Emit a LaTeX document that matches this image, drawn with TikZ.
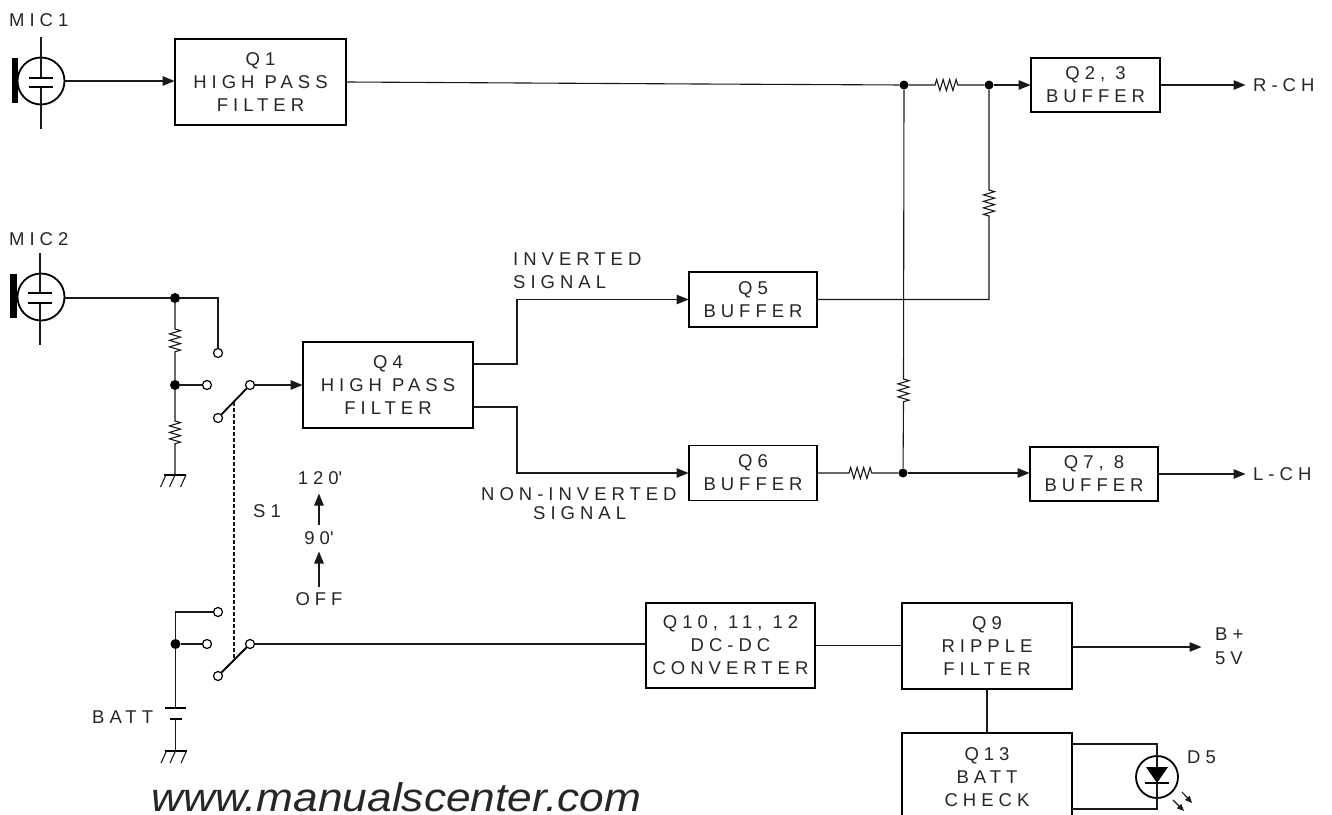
\documentclass[tikz,border=0pt]{standalone}
\usepackage{fontspec}
\setmainfont[LetterSpace=27]{Liberation Sans}
\newfontfamily\wmfont{Liberation Sans}
\usetikzlibrary{arrows.meta,decorations.pathmorphing,calc}
\tikzset{
  wire/.style={line width=1.1pt,black!90},
  arr/.style={wire,-{Triangle[length=12pt,width=9.5pt]},shorten >=-0.5pt},
  block/.style={draw,line width=1.9pt,rectangle,align=center,inner sep=0pt,font=\fontsize{18.5}{23}\selectfont,text=black!85},
  label/.style={align=center,inner sep=0pt,font=\fontsize{18.5}{23}\selectfont,text=black!85},
  dot/.style={circle,fill=black,inner sep=0pt,minimum size=10pt},
  term/.style={circle,draw,line width=1.2pt,fill=white,inner sep=0pt,minimum size=9pt},
  mic/.style={circle,draw,line width=1.8pt,inner sep=0pt,minimum size=47pt},
  blade/.style={line width=1.8pt},
  res/.style={decorate,decoration={zigzag,amplitude=5.5pt,segment length=6.5pt}},
}
\newcommand{\groundat}[1]{%
  \draw[line width=1.5pt] ($(#1)+(-11,0)$) -- ($(#1)+(11,0)$);
  \foreach \dx in {-9,0,11}{\draw[wire] ($(#1)+(\dx,0)$) -- ($(#1)+(\dx-5.5,12)$);}
}
\begin{document}
\begin{tikzpicture}[x=1pt,y=-1pt]
\useasboundingbox (0,0) rectangle (1332,814);
\clip (0,0) rectangle (1332,814);
% blocks
\node[block,minimum width=171pt,minimum height=86pt] (q1) at (260.5,82) {Q1\\HIGH PASS\\FILTER};
\node[block,minimum width=129pt,minimum height=54pt] (q23) at (1095.5,85) {Q2, 3\\BUFFER};
\node[block,minimum width=128pt,minimum height=55pt] (q5) at (753,299.5) {Q5\\BUFFER};
\node[block,minimum width=170pt,minimum height=86pt] (q4) at (388,385) {Q4\\HIGH PASS\\FILTER};
\node[block,minimum width=128pt,minimum height=55pt] (q6) at (753,473) {Q6\\BUFFER};
\node[block,minimum width=128pt,minimum height=54pt] (q78) at (1094,474) {Q7, 8\\BUFFER};
\node[block,minimum width=169pt,minimum height=85pt] (q10) at (730.5,645.5) {Q10, 11, 12\\DC-DC\\CONVERTER};
\node[block,minimum width=170pt,minimum height=86pt] (q9) at (987,646) {Q9\\RIPPLE\\FILTER};
\node[block,minimum width=170pt,minimum height=88pt] (q13) at (987,777) {Q13\\BATT\\CHECK};
% microphones
\node[mic] (mic1) at (41,81) {};
\node[mic] (mic2) at (41,297) {};
\fill (12,58) rectangle (18,103);
\fill (10,274) rectangle (17,318);
\coordinate (m1t) at (41,37); \coordinate (m1b) at (41,129);
\coordinate (m2t) at (40,253); \coordinate (m2b) at (40,345);
\draw[wire] (m1t) -- (41,78) (41,87) -- (m1b);
\draw[wire] (m2t) -- (40,293) (40,303) -- (m2b);
\draw[line width=1.8pt] (29,78) -- (53,78) (29,87) -- (53,87);
\draw[line width=1.8pt] (28,293) -- (52,293) (28,303) -- (52,303);
% junctions
\node[dot,minimum size=9pt] (j1) at (904,85) {};
\node[dot,minimum size=9pt] (j2) at (989,85) {};
\node[dot,minimum size=9pt] (j3) at (903,473) {};
\node[dot] (j4) at (175,298) {};
\node[dot] (j5) at (175,385) {};
\node[dot] (j6) at (175.5,644) {};
% switch terminals
\node[term] (a1) at (218,353) {};
\node[term] (a2) at (207,385) {};
\node[term] (a3) at (218,418) {};
\node[term] (a4) at (250,385) {};
\node[term] (b1) at (218,612) {};
\node[term] (b2) at (207,644) {};
\node[term] (b3) at (218,676) {};
\node[term] (b4) at (250,644) {};
% top line
\coordinate (r1a) at (935,85); \coordinate (r1b) at (959,85);
\coordinate (q1k) at (700,84);
\draw[wire] (q1.east) -- (q1k) -- (j1);
\draw[arr] (mic1.east) -- (mic1.east -| q1.west);
\draw[wire] (j1) -- (r1a) decorate[res]{-- (r1b)} -- (j2);
\draw[arr] (j2) -- (q23);
\coordinate (rch) at (1245,85);
\draw[arr] (q23) -- (rch);
% vertical resistors
\coordinate (r2a) at (989,190); \coordinate (r2b) at (989,216);
\draw[wire] (j2) -- (r2a) decorate[res]{-- (r2b)} |- (q5);
\coordinate (r3a) at (903.5,379); \coordinate (r3b) at (903.5,404);
\draw[wire] (j1) -- (r3a) decorate[res]{-- (r3b)} -- (j3);
% lower channel
\coordinate (r4a) at (849,473); \coordinate (r4b) at (874,473);
\draw[wire] (q6.east) -- (r4a) decorate[res]{-- (r4b)} -- (j3);
\draw[arr] (j3) -- (j3 -| q78.west);
\coordinate (lch) at (1245,474);
\draw[arr] (q78) -- (lch);
% Q4 outputs
\coordinate (q4a) at (473,364); \coordinate (q4b) at (473,407);
\draw[arr] (q4a) -- (517,364) |- (q5);
\draw[arr] (q4b) -- (517,407) |- (q6);
% MIC2 network
\coordinate (r5a) at (175,329); \coordinate (r5b) at (175,353);
\coordinate (r6a) at (175,421); \coordinate (r6b) at (175,446);
\coordinate (g1) at (175,475);
\draw[wire] (mic2.east |- j4) -- (j4);
\draw[wire] (j4) -| (a1);
\draw[wire] (j4) -- (r5a) decorate[res]{-- (r5b)} -- (j5);
\draw[wire] (j5) -- (a2);
\draw[wire] (j5) -- (r6a) decorate[res]{-- (r6b)} -- (g1);
\groundat{g1}
\draw[blade] (a3) -- (a4);
\draw[arr] (a4) -- (q4);
% gang line
\coordinate (s1) at (234,402); \coordinate (s2) at (234,660);
\draw[wire,dash pattern=on 4pt off 2pt] (s1) -- (s2);
% battery switch
\coordinate (bc) at (175.5,612);
\coordinate (bt) at (175.5,708);
\coordinate (bs) at (175.5,719);
\coordinate (g2) at (175.5,751);
\draw[wire] (b1) -- (bc) -- (j6);
\draw[wire] (j6) -- (b2);
\draw[wire] (j6) -- (bt);
\draw[line width=1.3pt] (165,708) -- (186,708);
\draw[line width=2.4pt] (170,719) -- (182,719);
\draw[wire] (bs) -- (g2);
\groundat{g2}
\draw[blade] (b3) -- (b4);
\draw[wire] (b4) -- (b4 -| q10.west);
\draw[wire] (q10.east) -- (q10.east -| q9.west);
\coordinate (bp) at (1201,647);
\draw[arr] (q9.east |- bp) -- (bp);
\draw[wire] (q9) -- (q13);
% LED
\node[mic,minimum size=42pt] (d5) at (1157,777) {};
\coordinate (q13a) at (1072,744); \coordinate (q13b) at (1072,809);
\draw[wire] (q13a) -- (1157,744) -- (1157,809) -- (q13b);
\fill (1146,767) -- (1168,767) -- (1157,783) -- cycle;
\draw[line width=1.8pt] (1145,783) -- (1169,783);
\coordinate (la) at (1182,792); \coordinate (lb) at (1192,803);
\coordinate (lc) at (1173,800); \coordinate (ld) at (1184,811);
\draw[wire,-{Triangle[length=7pt,width=6pt]}] (la) -- (lb);
\draw[wire,-{Triangle[length=7pt,width=6pt]}] (lc) -- (ld);
% S1 arrows and labels
\node[label] (t120) at (320,478) {120\textquotesingle};
\node[label] (t90) at (319,538) {90\textquotesingle};
\node[label] (toff) at (319,599) {OFF};
\coordinate (ua) at (319,525); \coordinate (ub) at (319,494);
\coordinate (uc) at (319,587); \coordinate (ud) at (319,552);
\draw[arr] (ua) -- (ub);
\draw[arr] (uc) -- (ud);
\node[label,anchor=west] (ts1) at (253,511) {S1};
\node[label,anchor=west] (tm1) at (9,20) {MIC1};
\node[label,anchor=west] (tm2) at (9,239) {MIC2};
\node[label,anchor=west] (tb) at (92,717) {BATT};
\node[label,anchor=west] (tr) at (1253,85) {R-CH};
\node[label,anchor=west] (tl) at (1253,474) {L-CH};
\node[label,anchor=west] (tbp) at (1215,634) {B+};
\node[label,anchor=west] (t5v) at (1215,658) {5V};
\node[label,anchor=west] (td5) at (1187,757) {D5};
\node[label,anchor=west] (tinv) at (513,259) {INVERTED};
\node[label,anchor=west] (tsig) at (513,282) {SIGNAL};
\node[label,anchor=west] (tnon) at (481,494) {NON-INVERTED};
\node[label,anchor=west] (tsig2) at (533,513) {SIGNAL};
% watermark
\node[anchor=base west,inner sep=0pt,xscale=1.106,font=\wmfont\itshape\fontsize{40}{40}\selectfont,text=black!85] (wm) at (151,811) {www.manualscenter.com};
\end{tikzpicture}
\end{document}
